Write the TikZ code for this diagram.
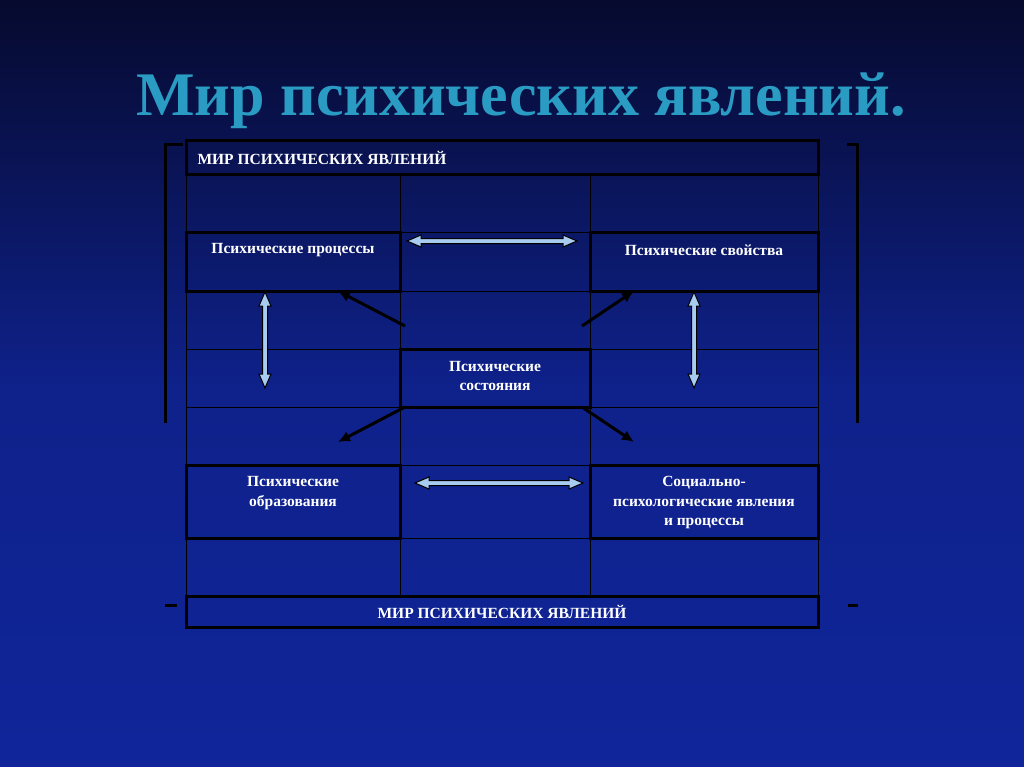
\documentclass[tikz,border=0pt]{standalone}
\usepackage{fontspec}
\setmainfont{Liberation Serif}
\usetikzlibrary{arrows.meta}
\definecolor{bgtop}{HTML}{060A2E}
\definecolor{bgbot}{HTML}{10259A}
\definecolor{ttl}{HTML}{2A9CC4}
\definecolor{larr}{HTML}{A8CCF0}
\tikzset{
  box/.style={draw=black,line width=3pt},
  grid/.style={draw=black,line width=1pt},
  lbl/.style={text=white,font=\bfseries\fontsize{15.5}{19.5}\selectfont,align=center},
  darr/.style={draw=black,line width=1pt,fill=larr},
  barr/.style={draw=black,line width=3pt,-{Latex[length=12pt,width=11pt]}},
  brk/.style={draw=black,line width=3pt}
}
% double arrow: start coordinate, angle, length
\newcommand\dblarr[3]{%
  \begin{scope}[shift={#1},rotate=#2]
    \draw[darr] (0,0) -- (14,-6) -- (14,-2.5) -- (#3-14,-2.5) -- (#3-14,-6) -- (#3,0)
      -- (#3-14,6) -- (#3-14,2.5) -- (14,2.5) -- (14,6) -- cycle;
  \end{scope}}
\begin{document}
\begin{tikzpicture}[x=1pt,y=-1pt]
\useasboundingbox (0,0) rectangle (1024,767);
\shade[top color=bgtop,bottom color=bgbot,middle color=bgbot!85!bgtop] (0,0) rectangle (1024,767);
\node[text=ttl,font=\bfseries\fontsize{62}{70}\selectfont] (title) at (521,101) {Мир психических явлений.};
% grid
\foreach \y in {233,291,349,407,465,538} \draw[grid] (186,\y) -- (818,\y);
\foreach \x in {400,590} \draw[grid] (\x,175) -- (\x,596);
\draw[grid] (186,175) -- (186,596);
\draw[grid] (818,175) -- (818,596);
% boxes
\draw[box] (186,141) rectangle (818,175);
\node[lbl,anchor=west] (h1) at (194,158) {МИР ПСИХИЧЕСКИХ ЯВЛЕНИЙ};
\draw[box] (186,233) rectangle (400,291);
\node[lbl] (proc) at (293,250) {Психические процессы};
\draw[box] (590,233) rectangle (818,291);
\node[lbl] (prop) at (704,250) {Психические свойства};
\draw[box] (400,349) rectangle (590,407);
\node[lbl] (state) at (495,376) {Психические\\состояния};
\draw[box] (186,465) rectangle (400,538);
\node[lbl] (form) at (293,493) {Психические\\образования};
\draw[box] (590,465) rectangle (818,538);
\node[lbl] (soc) at (704,503) {Социально-\\психологические явления\\и процессы};
\draw[box] (186,596) rectangle (818,627);
\node[lbl] (h2) at (502,612) {МИР ПСИХИЧЕСКИХ ЯВЛЕНИЙ};
% double arrows
\dblarr{(407,241)}{0}{170}
\dblarr{(415,483)}{0}{168}
\dblarr{(265,292)}{-90}{96}
\dblarr{(694,292)}{-90}{96}
% black arrows
\coordinate (s1) at (405,326); \coordinate (t1) at (338,291);
\coordinate (s2) at (582,326); \coordinate (t2) at (634,291);
\coordinate (s3) at (405,407); \coordinate (t3) at (338,442);
\coordinate (s4) at (582,407); \coordinate (t4) at (634,442);
\draw[barr] (s1) -- (t1);
\draw[barr] (s2) -- (t2);
\draw[barr] (s3) -- (t3);
\draw[barr] (s4) -- (t4);
% brackets
\draw[brk] (183,145) -- (165,145) -- (165,423);
\draw[brk] (847,145) -- (857,145) -- (857,423);
\draw[brk] (165,605) -- (177,605);
\draw[brk] (848,605) -- (858,605);
\end{tikzpicture}
\end{document}
